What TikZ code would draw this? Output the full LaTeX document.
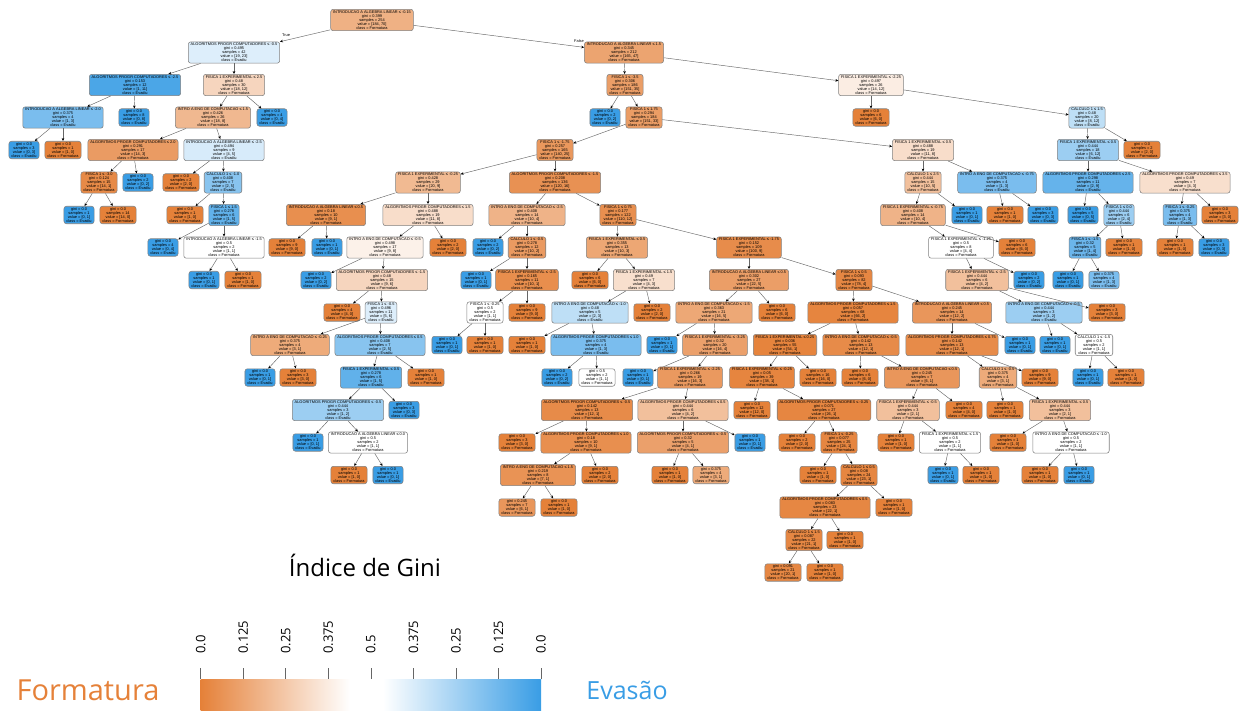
\documentclass[tikz,border=0pt]{standalone}
\usepackage{fontspec}
\setmainfont{Liberation Sans}
\newfontfamily\legfont{Open Sans}
\usetikzlibrary{arrows.meta}
\definecolor{Form}{HTML}{E58139}
\definecolor{Eva}{HTML}{399DE5}
\tikzset{
  tn/.style={draw=black!50, line width=0.55pt, rounded corners=2.5pt, align=center,
    font=\fontsize{3.9}{4}\selectfont, inner xsep=2.4pt, inner ysep=1.3pt},
  conn/.style={draw=black!60, line width=0.45pt, -{Stealth[length=3pt,width=2.6pt,black]}},
  lbl/.style={font=\fontsize{3.9}{4}\selectfont, inner sep=0.5pt},
  legtxt/.style={font=\legfont\fontsize{24}{28}\selectfont, inner sep=0pt},
  ticklbl/.style={font=\legfont\fontsize{13}{14}\selectfont, rotate=90, anchor=west, inner sep=0pt},
}
\newcommand\SetNodeColour[2]{%
  \ifnum#1<#2
    \edef\thenodecol{Eva!\the\numexpr100*(#2-#1)/#2\relax!white}%
  \else
    \edef\thenodecol{Form!\the\numexpr100*(#1-#2)/#1\relax!white}%
  \fi}
% name, parent, x, level, condition, gini, a, b
\newcommand\TreeNode[8]{%
  \SetNodeColour{#7}{#8}%
  \node[tn, fill=\thenodecol] (#1) at (#3,{20+32.5*#4})
    {#5\\gini = #6\\samples = \the\numexpr#7+#8\relax\\value = [#7, #8]\\class = \ifnum#7<#8 Evadiu\else Formatura\fi};
  \ifx\relax#2\relax\else\draw[conn] (#2) -- (#1);\fi}
% name, parent, x, level, gini, a, b
\newcommand\TreeLeaf[7]{%
  \SetNodeColour{#6}{#7}%
  \node[tn, fill=\thenodecol] (#1) at (#3,{20+32.5*#4})
    {gini = #5\\samples = \the\numexpr#6+#7\relax\\value = [#6, #7]\\class = \ifnum#6<#7 Evadiu\else Formatura\fi};
  \draw[conn] (#2) -- (#1);}
\begin{document}
\lineskiplimit=-5pt
\lineskip=0pt
\begin{tikzpicture}[x=1pt, y=-1pt]
\useasboundingbox (0,0) rectangle (1240,713);
% level 0-3
\TreeNode{r}{}{372}{0}{INTRODUCAO A ALGEBRA LINEAR ≤ -0.15}{0.399}{184}{70}
\TreeNode{a}{r}{234}{1}{ALGORITMOS PROGR COMPUTADORES ≤ -0.5}{0.495}{19}{23}
\TreeNode{b}{r}{624}{1}{INTRODUCAO A ALGEBRA LINEAR ≤ 1.5}{0.345}{165}{47}
\node[lbl] (tlab) at (286,35) {True};
\node[lbl] (flab) at (579,41) {False};
\TreeNode{aa}{a}{135}{2}{ALGORITMOS PROGR COMPUTADORES ≤ -2.5}{0.153}{1}{11}
\TreeNode{ab}{a}{234}{2}{FISICA 1 EXPERIMENTAL ≤ 2.5}{0.48}{18}{12}
\TreeNode{ba}{b}{625}{2}{FISICA 1 ≤ -3.5}{0.306}{151}{35}
\TreeNode{bb}{b}{871}{2}{FISICA 1 EXPERIMENTAL ≤ -2.25}{0.497}{14}{12}
\TreeNode{aaa}{aa}{63}{3}{INTRODUCAO A ALGEBRA LINEAR ≤ -2.0}{0.375}{1}{3}
\TreeLeaf{aab}{aa}{134}{3}{0.0}{0}{8}
\TreeNode{aba}{ab}{213}{3}{INTRO A ENG DE COMPUTACAO ≤ 1.5}{0.426}{18}{8}
\TreeLeaf{abb}{ab}{272}{3}{0.0}{0}{4}
\TreeLeaf{baa}{ba}{605}{3}{0.0}{0}{2}
\TreeNode{bab}{ba}{644}{3}{FISICA 1 ≤ 1.75}{0.294}{151}{33}
\TreeLeaf{bba}{bb}{871}{3}{0.0}{6}{0}
\TreeNode{bbb}{bb}{1087}{3}{CALCULO 1 ≤ 1.5}{0.48}{8}{12}
% level 4
\TreeLeaf{aaaa}{aaa}{24}{4}{0.0}{0}{3}
\TreeLeaf{aaab}{aaa}{63}{4}{0.0}{1}{0}
\TreeNode{abaa}{aba}{133}{4}{ALGORITMOS PROGR COMPUTADORES ≤ 2.0}{0.291}{14}{3}
\TreeNode{abab}{aba}{224}{4}{INTRODUCAO A ALGEBRA LINEAR ≤ -2.5}{0.494}{4}{5}
\TreeNode{baba}{bab}{555}{4}{FISICA 1 ≤ -1.75}{0.257}{140}{25}
\TreeNode{babb}{bab}{923}{4}{FISICA 1 EXPERIMENTAL ≤ 0.5}{0.488}{11}{8}
\TreeNode{bbba}{bbb}{1088}{4}{FISICA 1 EXPERIMENTAL ≤ 0.5}{0.444}{6}{12}
\TreeLeaf{bbbb}{bbb}{1142}{4}{0.0}{2}{0}
% level 5
\TreeNode{abaaa}{abaa}{99}{5}{FISICA 1 ≤ -3.0}{0.124}{14}{1}
\TreeLeaf{abaab}{abaa}{138}{5}{0.0}{0}{2}
\TreeLeaf{ababa}{abab}{181}{5}{0.0}{2}{0}
\TreeNode{ababb}{abab}{223}{5}{CALCULO 1 ≤ -1.0}{0.408}{2}{5}
\TreeNode{babaa}{baba}{428}{5}{FISICA 1 EXPERIMENTAL ≤ -0.25}{0.428}{20}{9}
\TreeNode{babab}{baba}{555}{5}{ALGORITMOS PROGR COMPUTADORES ≤ -1.5}{0.208}{120}{16}
\TreeNode{babba}{babb}{923}{5}{CALCULO 1 ≤ 2.5}{0.444}{10}{5}
\TreeNode{babbb}{babb}{997}{5}{INTRO A ENG DE COMPUTACAO ≤ -0.75}{0.375}{1}{3}
\TreeNode{bbbaa}{bbba}{1088}{5}{ALGORITMOS PROGR COMPUTADORES ≤ 2.5}{0.298}{2}{9}
\TreeNode{bbbab}{bbba}{1185}{5}{ALGORITMOS PROGR COMPUTADORES ≤ 3.5}{0.49}{4}{3}
% level 6
\TreeLeaf{abaaaa}{abaaa}{79}{6}{0.0}{0}{1}
\TreeLeaf{abaaab}{abaaa}{118}{6}{0.0}{14}{0}
\TreeLeaf{ababba}{ababb}{185}{6}{0.0}{1}{0}
\TreeNode{ababbb}{ababb}{224}{6}{FISICA 1 ≤ 1.5}{0.278}{1}{5}
\TreeNode{babaaa}{babaa}{326}{6}{INTRODUCAO A ALGEBRA LINEAR ≤ 0.5}{0.18}{9}{1}
\TreeNode{babaab}{babaa}{428}{6}{ALGORITMOS PROGR COMPUTADORES ≤ 1.5}{0.488}{11}{8}
\TreeNode{bababa}{babab}{527}{6}{INTRO A ENG DE COMPUTACAO ≤ -2.5}{0.408}{10}{4}
\TreeNode{bababb}{babab}{618}{6}{FISICA 1 ≤ 0.75}{0.177}{110}{12}
\TreeNode{babbaa}{babba}{913}{6}{FISICA 1 EXPERIMENTAL ≤ -0.75}{0.408}{10}{4}
\TreeLeaf{babbab}{babba}{967}{6}{0.0}{0}{1}
\TreeLeaf{babbba}{babbb}{1005}{6}{0.0}{1}{0}
\TreeLeaf{babbbb}{babbb}{1043}{6}{0.0}{0}{3}
\TreeLeaf{bbbaaa}{bbbaa}{1083}{6}{0.0}{0}{5}
\TreeNode{bbbaab}{bbbaa}{1119}{6}{FISICA 1 ≤ 0.0}{0.444}{2}{4}
\TreeNode{bbbaba}{bbbab}{1180}{6}{FISICA 1 ≤ -0.25}{0.375}{1}{3}
\TreeLeaf{bbbabb}{bbbab}{1220}{6}{0.0}{3}{0}
% level 7
\TreeLeaf{ababbba}{ababbb}{163}{7}{0.0}{0}{4}
\TreeNode{ababbbb}{ababbb}{224}{7}{INTRODUCAO A ALGEBRA LINEAR ≤ -1.5}{0.5}{1}{1}
\TreeLeaf{babaaaa}{babaaa}{287}{7}{0.0}{9}{0}
\TreeLeaf{babaaab}{babaaa}{327}{7}{0.0}{0}{1}
\TreeNode{babaaba}{babaab}{385}{7}{INTRO A ENG DE COMPUTACAO ≤ -0.5}{0.498}{9}{8}
\TreeLeaf{babaabb}{babaab}{448}{7}{0.0}{2}{0}
\TreeLeaf{bababaa}{bababa}{488}{7}{0.0}{0}{2}
\TreeNode{bababab}{bababa}{527}{7}{CALCULO 1 ≤ -0.5}{0.278}{10}{2}
\TreeNode{bababba}{bababb}{617}{7}{FISICA 1 EXPERIMENTAL ≤ 0.5}{0.355}{10}{3}
\TreeNode{bababbb}{bababb}{749}{7}{FISICA 1 EXPERIMENTAL ≤ -1.75}{0.152}{100}{9}
\TreeNode{babbaaa}{babbaa}{961}{7}{FISICA 1 EXPERIMENTAL ≤ -1.25}{0.5}{4}{4}
\TreeLeaf{babbaab}{babbaa}{1017}{7}{0.0}{6}{0}
\TreeNode{bbbaaba}{bbbaab}{1085}{7}{FISICA 1 ≤ -1.5}{0.32}{1}{4}
\TreeLeaf{bbbaabb}{bbbaab}{1124}{7}{0.0}{1}{0}
\TreeLeaf{bbbabaa}{bbbaba}{1175}{7}{0.0}{1}{0}
\TreeLeaf{bbbabab}{bbbaba}{1214}{7}{0.0}{0}{3}
% level 8
\TreeLeaf{ababbbba}{ababbbb}{204}{8}{0.0}{0}{1}
\TreeLeaf{ababbbbb}{ababbbb}{243}{8}{0.0}{1}{0}
\TreeLeaf{babaabaa}{babaaba}{316}{8}{0.0}{0}{2}
\TreeNode{babaabab}{babaaba}{382}{8}{ALGORITMOS PROGR COMPUTADORES ≤ -1.5}{0.48}{9}{6}
\TreeLeaf{babababa}{bababab}{476}{8}{0.0}{0}{1}
\TreeNode{babababb}{bababab}{527}{8}{FISICA 1 EXPERIMENTAL ≤ -2.5}{0.165}{10}{1}
\TreeLeaf{bababbaa}{bababba}{590}{8}{0.0}{6}{0}
\TreeNode{bababbab}{bababba}{644}{8}{FISICA 1 EXPERIMENTAL ≤ 1.5}{0.49}{4}{3}
\TreeNode{bababbba}{bababbb}{749}{8}{INTRODUCAO A ALGEBRA LINEAR ≤ 0.5}{0.302}{22}{5}
\TreeNode{bababbbb}{bababbb}{854}{8}{FISICA 1 ≤ 0.5}{0.093}{78}{4}
\TreeNode{babbaaaa}{babbaaa}{977}{8}{FISICA 1 EXPERIMENTAL ≤ -2.5}{0.444}{4}{2}
\TreeLeaf{babbaaab}{babbaaa}{1029}{8}{0.0}{0}{2}
\TreeLeaf{bbbaabaa}{bbbaaba}{1068}{8}{0.0}{0}{1}
\TreeLeaf{bbbaabab}{bbbaaba}{1104}{8}{0.375}{1}{3}
% level 9
\TreeLeaf{babaababa}{babaabab}{342}{9}{0.0}{4}{0}
\TreeNode{babaababb}{babaabab}{381}{9}{FISICA 1 ≤ -0.5}{0.496}{5}{6}
\TreeNode{babababba}{babababb}{485}{9}{FISICA 1 ≤ -0.25}{0.5}{1}{1}
\TreeLeaf{babababbb}{babababb}{527}{9}{0.0}{9}{0}
\TreeNode{bababbaba}{bababbab}{590}{9}{INTRO A ENG DE COMPUTACAO ≤ -1.0}{0.48}{2}{3}
\TreeLeaf{bababbabb}{bababbab}{652}{9}{0.0}{2}{0}
\TreeNode{bababbbaa}{bababbba}{714}{9}{INTRO A ENG DE COMPUTACAO ≤ -1.5}{0.363}{16}{5}
\TreeLeaf{bababbbab}{bababbba}{777}{9}{0.0}{6}{0}
\TreeNode{bababbbba}{bababbbb}{853}{9}{ALGORITMOS PROGR COMPUTADORES ≤ 1.5}{0.057}{66}{2}
\TreeNode{bababbbbb}{bababbbb}{952}{9}{INTRODUCAO A ALGEBRA LINEAR ≤ 0.5}{0.245}{12}{2}
\TreeNode{babbaaaaa}{babbaaaa}{1044}{9}{INTRO A ENG DE COMPUTACAO ≤ -0.5}{0.444}{1}{2}
\TreeLeaf{babbaaaab}{babbaaaa}{1107}{9}{0.0}{3}{0}
% level 10
\TreeNode{babaababba}{babaababb}{290}{10}{INTRO A ENG DE COMPUTACAO ≤ -0.25}{0.375}{3}{1}
\TreeNode{babaababbb}{babaababb}{380}{10}{ALGORITMOS PROGR COMPUTADORES ≤ 0.5}{0.408}{2}{5}
\TreeLeaf{babababbaa}{babababba}{447}{10}{0.0}{0}{1}
\TreeLeaf{babababbab}{babababba}{485}{10}{0.0}{1}{0}
\TreeLeaf{bababbabaa}{bababbaba}{527}{10}{0.0}{1}{0}
\TreeNode{bababbabab}{bababbaba}{596}{10}{ALGORITMOS PROGR COMPUTADORES ≤ 1.0}{0.375}{1}{3}
\TreeLeaf{bababbbaaa}{bababbbaa}{662}{10}{0.0}{0}{1}
\TreeNode{bababbbaab}{bababbbaa}{715}{10}{FISICA 1 EXPERIMENTAL ≤ -3.25}{0.32}{16}{4}
\TreeNode{bababbbbaa}{bababbbba}{785}{10}{FISICA 1 EXPERIMENTAL ≤ 0.25}{0.036}{54}{1}
\TreeNode{bababbbbab}{bababbbba}{861}{10}{INTRO A ENG DE COMPUTACAO ≤ -0.5}{0.142}{12}{1}
\TreeNode{bababbbbba}{bababbbbb}{952}{10}{ALGORITMOS PROGR COMPUTADORES ≤ 0.75}{0.142}{12}{1}
\TreeLeaf{bababbbbbb}{bababbbbb}{1020}{10}{0.0}{0}{1}
\TreeLeaf{babbaaaaaa}{babbaaaaa}{1055}{10}{0.0}{0}{1}
\TreeNode{babbaaaaab}{babbaaaaa}{1094}{10}{CALCULO 1 ≤ -1.5}{0.5}{1}{1}
% level 11
\TreeLeaf{babaababbaa}{babaababba}{260}{11}{0.0}{0}{1}
\TreeLeaf{babaababbab}{babaababba}{298}{11}{0.0}{3}{0}
\TreeNode{babaababbba}{babaababbb}{371}{11}{FISICA 1 EXPERIMENTAL ≤ 0.5}{0.278}{1}{5}
\TreeLeaf{babaababbbb}{babaababbb}{426}{11}{0.0}{1}{0}
\TreeLeaf{bababbababa}{bababbabab}{557}{11}{0.0}{0}{2}
\TreeLeaf{bababbababb}{bababbabab}{597}{11}{0.5}{1}{1}
\TreeLeaf{bababbbaaba}{bababbbaab}{638}{11}{0.0}{0}{1}
\TreeNode{bababbbaabb}{bababbbaab}{690}{11}{FISICA 1 EXPERIMENTAL ≤ -2.25}{0.266}{16}{3}
\TreeNode{bababbbbaaa}{bababbbbaa}{762}{11}{FISICA 1 EXPERIMENTAL ≤ -0.25}{0.05}{38}{1}
\TreeLeaf{bababbbbaab}{bababbbbaa}{818}{11}{0.0}{16}{0}
\TreeLeaf{bababbbbaba}{bababbbbab}{860}{11}{0.0}{6}{0}
\TreeNode{bababbbbabb}{bababbbbab}{922}{11}{INTRO A ENG DE COMPUTACAO ≤ 0.5}{0.245}{6}{1}
\TreeNode{bababbbbbaa}{bababbbbba}{998}{11}{CALCULO 1 ≤ -0.5}{0.375}{3}{1}
\TreeLeaf{bababbbbbab}{bababbbbba}{1040}{11}{0.0}{9}{0}
\TreeLeaf{babbaaaaaba}{babbaaaaab}{1088}{11}{0.0}{0}{1}
\TreeLeaf{babbaaaaabb}{babbaaaaab}{1126}{11}{0.0}{1}{0}
% level 12
\TreeNode{babaababbbaa}{babaababbba}{338}{12}{ALGORITMOS PROGR COMPUTADORES ≤ -0.5}{0.444}{1}{2}
\TreeLeaf{babaababbbab}{babaababbba}{404}{12}{0.0}{0}{3}
\TreeNode{bababbbaabba}{bababbbaabb}{587}{12}{ALGORITMOS PROGR COMPUTADORES ≤ -0.5}{0.142}{12}{1}
\TreeNode{bababbbaabbb}{bababbbaabb}{683}{12}{ALGORITMOS PROGR COMPUTADORES ≤ 0.5}{0.444}{4}{2}
\TreeLeaf{bababbbbaaaa}{bababbbbaaa}{752}{12}{0.0}{12}{0}
\TreeNode{bababbbbaaab}{bababbbbaaa}{824}{12}{ALGORITMOS PROGR COMPUTADORES ≤ -0.25}{0.071}{26}{1}
\TreeNode{bababbbbabba}{bababbbbabb}{908}{12}{FISICA 1 EXPERIMENTAL ≤ -0.5}{0.444}{2}{1}
\TreeLeaf{bababbbbabbb}{bababbbbabb}{964}{12}{0.0}{4}{0}
\TreeLeaf{bababbbbbaaa}{bababbbbbaa}{1005}{12}{0.0}{1}{0}
\TreeNode{bababbbbbaab}{bababbbbbaa}{1060}{12}{FISICA 1 EXPERIMENTAL ≤ 0.5}{0.444}{2}{1}
% level 13
\TreeLeaf{babaababbbaaa}{babaababbbaa}{308}{13}{0.0}{0}{1}
\TreeNode{babaababbbaab}{babaababbbaa}{368}{13}{INTRODUCAO A ALGEBRA LINEAR ≤ 0.0}{0.5}{1}{1}
\TreeLeaf{bababbbaabbaa}{bababbbaabba}{517}{13}{0.0}{3}{0}
\TreeNode{bababbbaabbab}{bababbbaabba}{586}{13}{ALGORITMOS PROGR COMPUTADORES ≤ 1.0}{0.18}{9}{1}
\TreeNode{bababbbaabbba}{bababbbaabbb}{683}{13}{ALGORITMOS PROGR COMPUTADORES ≤ -0.5}{0.32}{4}{1}
\TreeLeaf{bababbbaabbbb}{bababbbaabbb}{750}{13}{0.0}{0}{1}
\TreeLeaf{bababbbbaaaba}{bababbbbaaab}{797}{13}{0.0}{2}{0}
\TreeNode{bababbbbaaabb}{bababbbbaaab}{839}{13}{FISICA 1 ≤ -0.25}{0.077}{24}{1}
\TreeLeaf{bababbbbabbaa}{bababbbbabba}{896}{13}{0.0}{1}{0}
\TreeNode{bababbbbabbab}{bababbbbabba}{950}{13}{FISICA 1 EXPERIMENTAL ≤ 1.5}{0.5}{1}{1}
\TreeLeaf{bababbbbbaaba}{bababbbbbaab}{1008}{13}{0.0}{1}{0}
\TreeNode{bababbbbbaabb}{bababbbbbaab}{1071}{13}{INTRO A ENG DE COMPUTACAO ≤ -1.0}{0.5}{1}{1}
% level 14
\TreeLeaf{babaababbbaaba}{babaababbbaab}{349}{14}{0.0}{1}{0}
\TreeLeaf{babaababbbaabb}{babaababbbaab}{388}{14}{0.0}{0}{1}
\TreeNode{bababbbaabbaba}{bababbbaabbab}{538}{14}{INTRO A ENG DE COMPUTACAO ≤ 1.5}{0.219}{7}{1}
\TreeLeaf{bababbbaabbabb}{bababbbaabbab}{600}{14}{0.0}{2}{0}
\TreeLeaf{bababbbaabbbaa}{bababbbaabbba}{670}{14}{0.0}{1}{0}
\TreeLeaf{bababbbaabbbab}{bababbbaabbba}{711}{14}{0.375}{3}{1}
\TreeLeaf{bababbbbaaabba}{bababbbbaaabb}{818}{14}{0.0}{1}{0}
\TreeNode{bababbbbaaabbb}{bababbbbaaabb}{859}{14}{CALCULO 1 ≤ 0.5}{0.08}{23}{1}
\TreeLeaf{bababbbbabbaba}{bababbbbabbab}{943}{14}{0.0}{0}{1}
\TreeLeaf{bababbbbabbabb}{bababbbbabbab}{981}{14}{0.0}{1}{0}
\TreeLeaf{bababbbbbaabba}{bababbbbbaabb}{1040}{14}{0.0}{1}{0}
\TreeLeaf{bababbbbbaabbb}{bababbbbbaabb}{1079}{14}{0.0}{0}{1}
% level 15
\TreeLeaf{bababbbaabbabaa}{bababbbaabbaba}{517}{15}{0.245}{6}{1}
\TreeLeaf{bababbbaabbabab}{bababbbaabbaba}{559}{15}{0.0}{1}{0}
\TreeNode{bababbbbaaabbba}{bababbbbaaabbb}{825}{15}{ALGORITMOS PROGR COMPUTADORES ≤ 0.5}{0.083}{22}{1}
\TreeLeaf{bababbbbaaabbbb}{bababbbbaaabbb}{894}{15}{0.0}{1}{0}
% level 16-17
\TreeNode{qa}{bababbbbaaabbba}{804}{16}{CALCULO 1 ≤ 1.5}{0.087}{21}{1}
\TreeLeaf{qb}{bababbbbaaabbba}{845}{16}{0.0}{1}{0}
\TreeLeaf{qc}{qa}{783}{17}{0.091}{20}{1}
\TreeLeaf{qd}{qa}{825}{17}{0.0}{1}{0}
% legend
\node[legtxt] (gtitle) at (365,565) {Índice de Gini};
\node[legtxt, text=Form, font=\legfont\fontsize{29}{32}\selectfont] (fmt) at (88,690) {Formatura};
\node[legtxt, text=Eva, font=\legfont\fontsize{25}{28}\selectfont] (eva) at (627,690) {Evasão};
\shade[left color=Form, right color=white] (200.7,679) rectangle (350,710);
\fill[white] (350,679) rectangle (383,710);
\shade[left color=white, right color=Eva] (383,679) rectangle (541,710);
\foreach \i/\t in {0/0.0,1/0.125,2/0.25,3/0.375,4/0.5,5/0.375,6/0.25,7/0.125,8/0.0}{
  \draw[line width=0.7pt, black!60] ({200.7+42.54*\i},668) -- ({200.7+42.54*\i},679);
  \node[ticklbl] at ({200.7+42.54*\i},654) {\t};
}
\end{tikzpicture}
\end{document}
